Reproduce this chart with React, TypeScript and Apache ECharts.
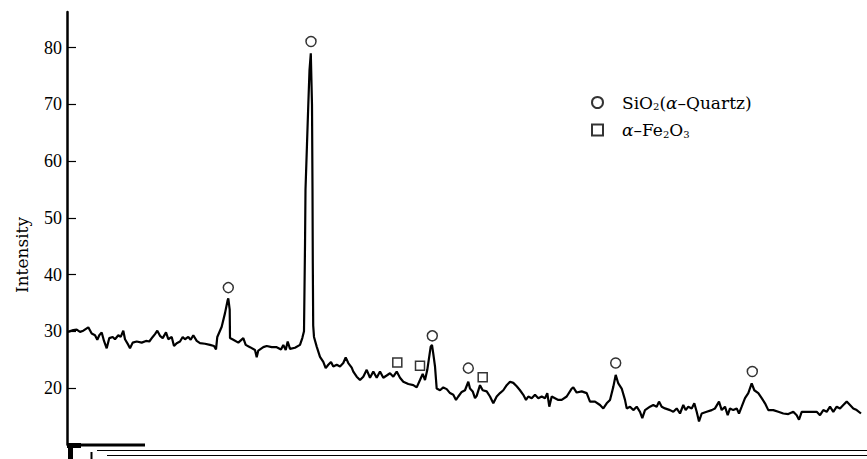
import React, { useEffect, useRef } from "react";
import * as echarts from "echarts";

// Scan position (arbitrary 2θ-like units, unlabelled in the original)
const twoTheta: number[] = [
  6.80, 7.33, 7.67, 8.00, 8.33, 8.83, 9.17, 9.50, 9.73, 9.93,
  10.17, 10.40, 10.67, 10.93, 11.27, 11.50, 11.83, 12.07, 12.33, 12.50,
  12.83, 13.00, 13.27, 13.67, 14.17, 14.60, 14.93, 15.27, 15.50, 15.73,
  16.00, 16.27, 16.60, 16.83, 17.17, 17.40, 17.67, 18.00, 18.27, 18.50,
  18.83, 19.07, 19.33, 19.67, 20.00, 20.50, 21.00, 21.40, 21.60, 21.73,
  22.17, 22.50, 22.77, 22.83, 22.97, 23.00, 23.33, 23.83, 24.33, 24.57,
  25.00, 25.50, 25.67, 25.83, 26.33, 26.67, 27.17, 27.67, 28.10, 28.33,
  28.57, 28.77, 29.00, 29.50, 30.00, 30.23, 30.40, 30.50, 30.55, 30.70,
  30.83, 30.95, 31.08, 31.20, 31.25, 31.28, 31.32, 31.40, 31.67, 32.00,
  32.33, 32.57, 32.83, 33.10, 33.33, 33.67, 34.00, 34.33, 34.57, 34.83,
  35.17, 35.33, 35.67, 36.00, 36.33, 36.67, 37.00, 37.33, 37.67, 38.00,
  38.33, 38.67, 39.00, 39.33, 39.67, 40.00, 40.33, 40.83, 41.33, 41.67,
  42.00, 42.27, 42.50, 42.73, 43.07, 43.20, 43.33, 43.50, 43.67, 44.00,
  44.33, 44.67, 45.00, 45.33, 45.60, 45.83, 46.17, 46.50, 46.83, 47.00,
  47.27, 47.50, 47.67, 48.00, 48.27, 48.67, 49.00, 49.33, 49.67, 50.00,
  50.33, 50.67, 51.00, 51.33, 51.67, 52.00, 52.33, 52.60, 52.83, 53.17,
  53.50, 53.83, 54.17, 54.50, 54.73, 54.93, 55.17, 55.50, 55.83, 56.17,
  56.67, 57.17, 57.33, 57.67, 58.17, 58.67, 59.00, 59.50, 60.00, 60.33,
  60.67, 61.00, 61.33, 61.57, 61.83, 62.17, 62.50, 62.67, 63.00, 63.33,
  63.67, 64.00, 64.23, 64.50, 65.00, 65.33, 65.67, 65.90, 66.17, 66.50,
  67.00, 67.33, 67.67, 68.00, 68.33, 68.57, 68.83, 69.17, 69.43, 69.67,
  69.90, 70.17, 70.67, 71.17, 71.50, 71.90, 72.17, 72.50, 72.77, 73.00,
  73.33, 73.67, 73.90, 74.17, 74.50, 74.83, 75.17, 75.43, 75.83, 76.17,
  76.50, 76.83, 77.33, 77.83, 78.33, 78.83, 79.33, 79.67, 79.90, 80.17,
  80.67, 81.17, 81.67, 82.00, 82.33, 82.67, 83.00, 83.33, 83.67, 84.00,
  84.33, 84.67, 85.00, 85.33, 85.67, 86.10,
];

const intensity: number[] = [
  29.9, 30.2, 30.3, 29.9, 30.1, 30.7, 29.6, 29.3, 28.5, 29.3,
  29.8, 28.3, 27.0, 28.8, 29.0, 28.6, 29.3, 29.0, 30.1, 28.6,
  27.6, 27.0, 28.0, 28.2, 28.0, 28.3, 28.2, 29.0, 29.5, 30.1,
  29.2, 28.8, 29.8, 28.6, 29.0, 27.4, 27.9, 28.2, 29.0, 28.6,
  29.0, 28.5, 29.3, 28.3, 27.9, 27.8, 27.6, 27.4, 26.8, 29.0,
  30.8, 33.2, 35.5, 35.8, 33.8, 28.8, 28.5, 28.0, 28.8, 27.6,
  27.2, 26.7, 25.4, 26.6, 27.2, 27.4, 27.2, 27.2, 26.8, 27.6,
  26.7, 28.2, 26.9, 27.1, 27.6, 28.8, 30.0, 45.0, 55.0, 63.0,
  70.0, 76.0, 79.0, 70.0, 55.0, 42.0, 31.0, 29.0, 27.3, 25.5,
  24.6, 23.5, 24.1, 24.6, 23.8, 24.1, 23.8, 24.4, 25.4, 24.4,
  23.6, 22.9, 22.0, 21.4, 22.0, 23.2, 21.8, 22.9, 21.8, 22.9,
  21.8, 22.2, 22.6, 22.0, 22.9, 21.8, 21.1, 20.7, 20.5, 20.1,
  21.4, 22.5, 21.4, 23.2, 27.3, 27.6, 26.0, 23.8, 19.9, 19.6,
  20.1, 19.8, 19.1, 18.8, 17.9, 18.5, 19.3, 19.6, 21.1, 19.9,
  19.4, 18.2, 18.6, 20.5, 19.6, 19.4, 18.5, 17.3, 18.5, 19.1,
  19.6, 20.5, 21.1, 20.9, 20.3, 19.6, 18.8, 17.9, 18.5, 18.2,
  18.8, 18.2, 18.5, 18.2, 19.1, 16.7, 18.5, 18.2, 17.9, 17.9,
  18.5, 19.9, 20.1, 19.2, 19.4, 19.1, 17.6, 17.6, 17.0, 16.4,
  17.3, 17.9, 20.2, 22.3, 20.8, 19.9, 17.9, 16.4, 16.7, 16.1,
  16.7, 15.8, 14.7, 16.1, 16.7, 17.0, 16.7, 17.6, 16.7, 16.4,
  16.1, 15.8, 16.4, 15.5, 17.0, 16.1, 16.7, 16.4, 17.3, 15.8,
  14.1, 15.5, 15.8, 16.1, 16.4, 17.6, 16.1, 16.7, 15.2, 16.4,
  16.1, 16.4, 15.5, 16.7, 18.2, 19.1, 20.8, 19.6, 19.1, 18.2,
  17.3, 16.1, 16.1, 15.8, 15.5, 15.4, 15.8, 15.2, 14.4, 15.8,
  15.8, 15.8, 15.8, 15.2, 16.1, 15.8, 16.7, 15.8, 16.7, 16.4,
  17.0, 17.6, 17.0, 16.4, 16.1, 15.5,
];

// Peak markers
const quartzPeakX: number[] = [22.83, 31.1, 43.23, 46.83, 61.57, 75.23];
const quartzPeakY: number[] = [37.7, 81.1, 29.2, 23.5, 24.4, 22.9];
const hematitePeakX: number[] = [39.73, 42.0, 48.27];
const hematitePeakY: number[] = [24.5, 23.9, 21.9];

const yTicks: number[] = [20, 30, 40, 50, 60, 70, 80];

const QUARTZ = "SiO2(α-Quartz)";
const HEMATITE = "α-Fe2O3";
const SERIF = "'DejaVu Serif', 'Liberation Serif', serif";
const LSERIF = "'Liberation Serif', 'DejaVu Serif', serif";

export default function App() {
  const ref = useRef<HTMLDivElement>(null);

  useEffect(() => {
    if (!ref.current) return;
    const chart = echarts.init(ref.current, undefined, { renderer: "svg" });

    const line = twoTheta.map((x, i) => [x, intensity[i]]);
    const qz = quartzPeakX.map((x, i) => [x, quartzPeakY[i]]);
    const fe = hematitePeakX.map((x, i) => [x, hematitePeakY[i]]);

    const legendRich: Record<string, string> = {
      [QUARTZ]: "SiO{s|2}({a|α}–Quartz)",
      [HEMATITE]: "{a|α}–Fe{s|2}O{s|3}",
    };

    chart.setOption({
      animation: false,
      backgroundColor: "#fff",
      grid: {
        left: 67,
        right: 0,
        top: 12,
        bottom: 14.3,
        containLabel: false,
        outerBoundsMode: "none",
      },
      xAxis: {
        type: "value",
        min: 6.7,
        max: 86.7,
        show: false,
      },
      yAxis: {
        type: "value",
        min: 10,
        max: 86.3,
        interval: 10,
        splitLine: { show: false },
        axisLine: { show: true, lineStyle: { color: "#000", width: 2.5 } },
        axisTick: {
          show: true,
          inside: true,
          length: 9,
          customValues: yTicks,
          lineStyle: { color: "#000", width: 1.2 },
        },
        axisLabel: {
          customValues: yTicks,
          color: "#000",
          fontFamily: LSERIF,
          fontSize: 18,
          margin: 5,
        },
      },
      legend: {
        orient: "vertical",
        left: 591,
        top: 94,
        padding: 0,
        itemWidth: 11,
        itemHeight: 11,
        itemGap: 10,
        data: [
          { name: QUARTZ, icon: "circle" },
          { name: HEMATITE, icon: "rect" },
        ],
        formatter: (name: string) => legendRich[name] || name,
        textStyle: {
          color: "#000",
          fontFamily: SERIF,
          fontSize: 17,
          padding: [0, 0, 0, 14],
          rich: {
            s: { fontFamily: SERIF, fontSize: 10, padding: [8, 0, 0, 0], color: "#000" },
            a: { fontFamily: SERIF, fontSize: 17, fontStyle: "italic", color: "#000" },
          },
        },
      },
      series: [
        {
          name: "XRD pattern",
          type: "line",
          data: line,
          showSymbol: false,
          symbol: "none",
          lineStyle: { color: "#000", width: 2.2 },
          z: 2,
        },
        {
          name: QUARTZ,
          type: "scatter",
          data: qz,
          symbol: "circle",
          symbolSize: 10,
          itemStyle: { color: "#fff", borderColor: "#000", borderWidth: 1.5 },
          z: 3,
        },
        {
          name: HEMATITE,
          type: "scatter",
          data: fe,
          symbol: "rect",
          symbolSize: 9,
          itemStyle: { color: "#fff", borderColor: "#000", borderWidth: 1.5 },
          z: 3,
        },
      ],
      graphic: [
        {
          type: "text",
          x: 22,
          y: 255,
          rotation: Math.PI / 2,
          style: {
            text: "Intensity",
            fill: "#000",
            font: `17px ${SERIF}`,
            textAlign: "center",
            textVerticalAlign: "middle",
          },
        },
        // scanned frame remnants along the bottom edge
        { type: "line", shape: { x1: 67, y1: 445, x2: 145, y2: 445 }, style: { stroke: "#000", lineWidth: 3 } },
        { type: "rect", shape: { x: 67, y: 443, width: 14, height: 5 }, style: { fill: "#000" } },
        { type: "rect", shape: { x: 68, y: 448, width: 5, height: 11 }, style: { fill: "#000" } },
        { type: "line", shape: { x1: 91.5, y1: 452, x2: 91.5, y2: 459 }, style: { stroke: "#000", lineWidth: 2 } },
        { type: "line", shape: { x1: 97, y1: 450.5, x2: 867, y2: 450.5 }, style: { stroke: "#000", lineWidth: 1 } },
        { type: "line", shape: { x1: 107, y1: 455.5, x2: 867, y2: 455.5 }, style: { stroke: "#000", lineWidth: 1 } },
      ],
    });

    return () => chart.dispose();
  }, []);

  return (
    <div
      ref={ref}
      style={{ position: "fixed", left: 0, top: 0, width: 867, height: 459 }}
    />
  );
}
